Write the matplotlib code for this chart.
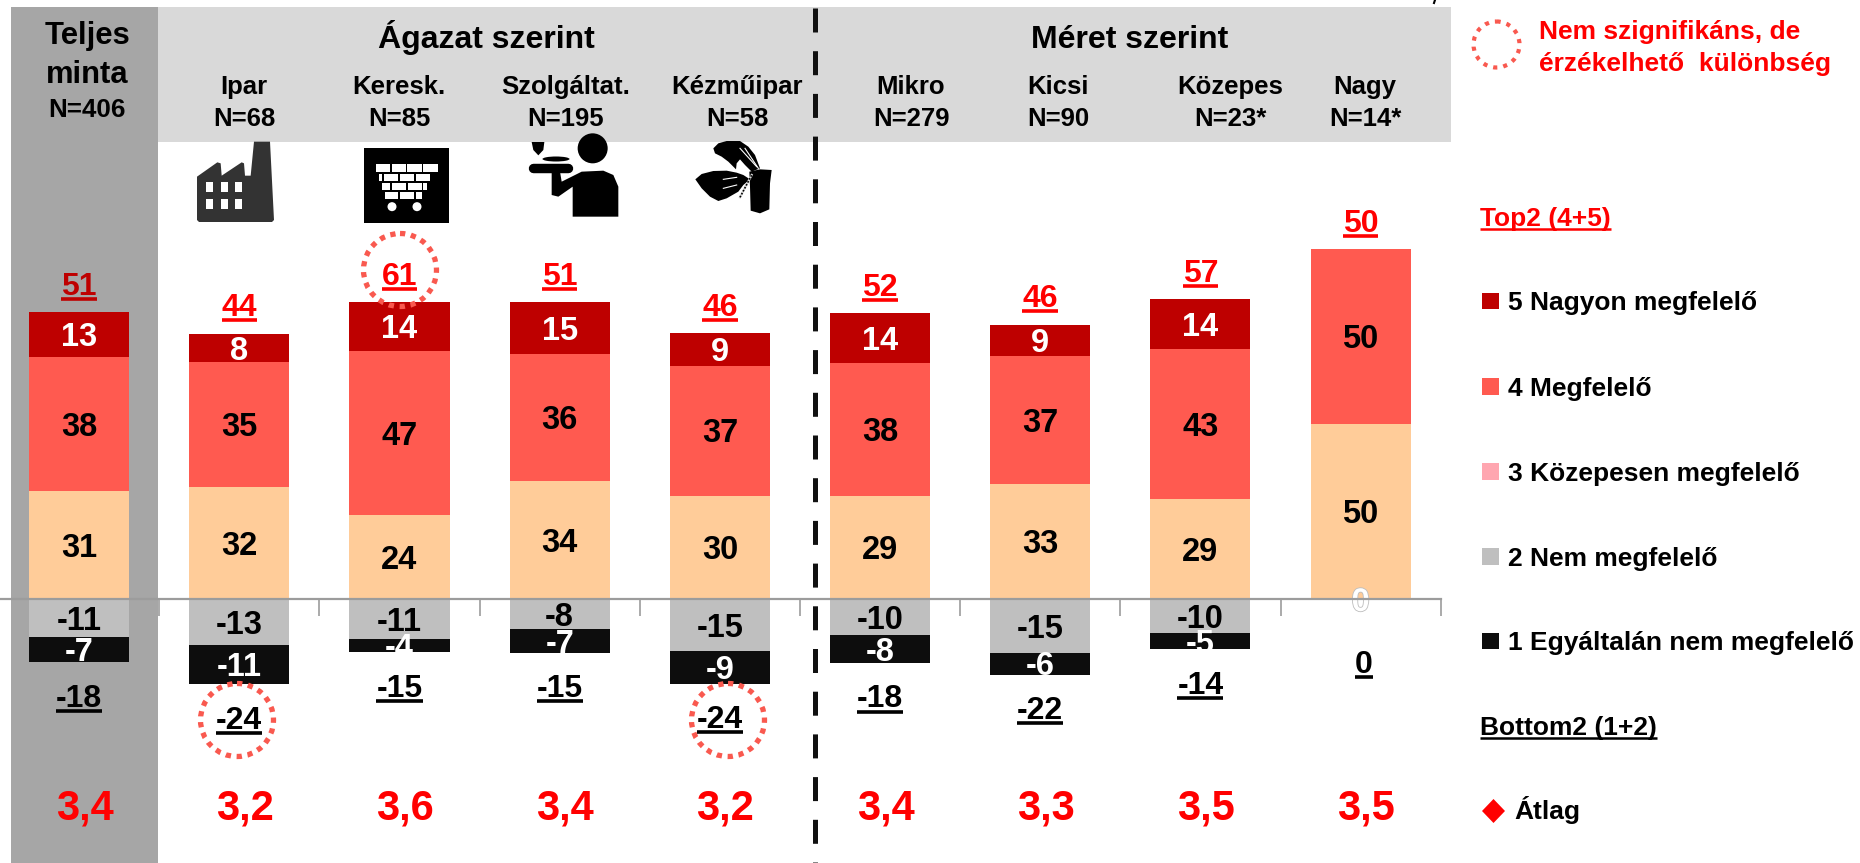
import matplotlib
matplotlib.use('Agg')
import matplotlib.pyplot as plt
import matplotlib.patheffects as pe
from matplotlib.patches import Rectangle, Polygon, Circle, Ellipse

plt.rcParams['font.family'] = ['Liberation Sans', 'DejaVu Sans']
plt.rcParams['font.weight'] = 'bold'

# data
groups = ['Teljes minta', 'Ipar', 'Keresk.', 'Szolgáltat.', 'Kézműipar', 'Mikro', 'Kicsi', 'Közepes', 'Nagy']
sizes = ['N=406', 'N=68', 'N=85', 'N=195', 'N=58', 'N=279', 'N=90', 'N=23*', 'N=14*']

# printed labels
v5 = [13, 8, 14, 15, 9, 14, 9, 14, 0]
v4 = [38, 35, 47, 36, 37, 38, 37, 43, 50]
v3 = [31, 32, 24, 34, 30, 29, 33, 29, 50]
v2 = [-11, -13, -11, -8, -15, -10, -15, -10, 0]
v1 = [-7, -11, -4, -7, -9, -8, -6, -5, 0]
top2 = [51, 44, 61, 51, 46, 52, 46, 57, 50]
bottom2 = [-18, -24, -15, -15, -24, -18, -22, -14, 0]
atlag = ['3,4', '3,2', '3,6', '3,4', '3,2', '3,4', '3,3', '3,5', '3,5']

# bar heights (unrounded)
h5 = [12.7, 8.0, 14.0, 14.8, 9.3, 14.3, 8.9, 14.2, 0]
h4 = [38.4, 35.6, 46.9, 36.3, 37.1, 37.9, 36.7, 42.8, 49.9]
h3 = [30.9, 32.2, 24.0, 33.8, 29.6, 29.5, 32.9, 28.7, 50.1]
h2 = [-10.8, -13.0, -11.3, -8.5, -14.9, -10.1, -15.3, -9.5, 0]
h1 = [-7.2, -11.3, -3.8, -6.8, -9.2, -8.1, -6.2, -4.8, 0]

C5, C4, C3, C2, C1 = '#BE0000', '#FF5A50', '#FFCC99', '#BFBFBF', '#0D0D0D'
C3_LEG = '#FFA6B0'
RED = '#FF0000'
COIL = '#F9594F'

W, H = 1860, 863
Y0 = 599.3       # zero line, pixels from the top
PX = 3.5         # pixels per percent

fig = plt.figure(figsize=(W / 100, H / 100), dpi=100)


# full figure axes in pixel coordinates, for bands, header, legend and icons
def pixel_axes(z):
    a = fig.add_axes([0, 0, 1, 1], zorder=z)
    a.set_xlim(0, W)
    a.set_ylim(H, 0)
    a.axis('off')
    return a


bg = pixel_axes(0)
ov = pixel_axes(2)

# main axes, zero line sits at Y0
ax = fig.add_axes([-1 / W, 0, 1441.7 / W, 1], zorder=1)
ax.patch.set_alpha(0)
ax.set_xlim(-0.5, 8.5)
ax.set_ylim(-(H - Y0) / PX, Y0 / PX)
for s in ['top', 'left', 'right']:
    ax.spines[s].set_visible(False)
ax.spines['bottom'].set_position(('data', 0))
ax.spines['bottom'].set_color('#9C9C9C')
ax.spines['bottom'].set_linewidth(1.6)
ax.set_yticks([])
ax.set_xticks([i - 0.5 for i in range(10)])
ax.set_xticklabels([])
ax.tick_params(axis='x', length=12, width=1.2, color='#9C9C9C', direction='out')

# background bands
bg.add_patch(Rectangle((11, 7), 147, H - 7, color='#A6A6A6', lw=0))
bg.add_patch(Rectangle((158, 7), 1293, 135, color='#D9D9D9', lw=0))

# bars
x = list(range(9))
b4 = h3
b5 = [a + b for a, b in zip(h3, h4)]
bw = 0.625
ax.bar(x, h3, bw, color=C3)
ax.bar(x, h4, bw, bottom=b4, color=C4)
ax.bar(x, h5, bw, bottom=b5, color=C5)
ax.bar(x, h2, bw, color=C2)
ax.bar(x, h1, bw, bottom=h2, color=C1)


def dlabel(i, y, s, size, color='black', dx=0, dy=0, zorder=5):
    # text centred on a data point, offsets in pixels (dy downwards)
    fpx = size / 0.72
    return ax.annotate(s, (i, y), xytext=(dx, -dy - 0.358 * fpx), textcoords='offset pixels',
                       ha='center', va='baseline', fontsize=size, color=color, zorder=zorder,
                       annotation_clip=False)


def ptext(px, py, s, size, color='black', ha='center'):
    # text with cap centre at a pixel position
    fpx = size / 0.72
    return ov.text(px, py + 0.358 * fpx, s, ha=ha, va='baseline', fontsize=size, color=color)


under = []
for i in x:
    dlabel(i, h3[i] / 2, str(v3[i]), 23.5)
    dlabel(i, b4[i] + h4[i] / 2, str(v4[i]), 23.5)
    if h5[i]:
        dlabel(i, b5[i] + h5[i] / 2, str(v5[i]), 23.5, 'white')
    if h2[i]:
        dlabel(i, h2[i] / 2, str(v2[i]), 23.5)
        dlabel(i, h2[i] + h1[i] / 2, str(v1[i]), 23.5, 'white')
    else:
        t = dlabel(i, 0, '0', 23.5, 'white', zorder=2)
        t.set_path_effects([pe.withStroke(linewidth=1.2, foreground='#BDBDBD')])

    # totals above and below the stack
    col = C5 if i == 0 else RED
    t = dlabel(i, b5[i] + h5[i], str(top2[i]), 23, col, dy=-29)
    under.append((t, col, 15.5))
    if h2[i]:
        t = dlabel(i, h2[i] + h1[i], str(bottom2[i]), 23, dy=33)
    else:
        t = dlabel(i, 0, str(bottom2[i]), 23, dx=3, dy=62)
    under.append((t, 'black', 15.5))

    # means row
    dlabel(i, (Y0 - 805) / PX, atlag[i], 30, RED, dx=5.5)

# header texts
ptext(87, 33, 'Teljes', 22.3)
ptext(87, 72, 'minta', 22.3)
ptext(87, 108, sizes[0], 18.7)
ptext(486, 37, 'Ágazat szerint', 23)
ptext(1130, 37, 'Méret szerint', 23)
name_x = [244, 399, 566, 737, 911, 1058, 1230, 1365]
for px, name, n in zip(name_x, groups[1:], sizes[1:]):
    ptext(px, 85, name, 18.5)
    ptext(px, 117, n, 18.5)

# vertical divider
ov.plot([815, 815], [8, H], color='#111111', lw=3.6, dashes=(24 / 5, 18.7 / 5), dash_capstyle='butt')

# dotted circles
for cx, cy, r in [(400, 270, 36.5), (237, 720, 36.5), (728, 720, 36.5)]:
    ov.add_patch(Circle((cx, cy), r, fill=False, ec=COIL, lw=3.8, ls=(0, (1, 1.08))))
ov.add_patch(Circle((1496.5, 44.5), 23, fill=False, ec=COIL, lw=3, ls=(0, (1, 1.45))))

# clipped bit of text at the top edge of the slide
ov.plot([1435, 1434], [0, 3], color='black', lw=1.5)

# legend
ptext(1539, 30, 'Nem szignifikáns, de', 19, RED, ha='left')
ptext(1539, 62, 'érzékelhető  különbség', 19, RED, ha='left')
t = ptext(1480, 217, 'Top2 (4+5)', 19, RED, ha='left')
under.append((t, RED, 12))
t = ptext(1480, 726, 'Bottom2 (1+2)', 19, ha='left')
under.append((t, 'black', 12))
legend_rows = [(301, C5, '5 Nagyon megfelelő'), (387, C4, '4 Megfelelő'), (471.5, C3_LEG, '3 Közepesen megfelelő'),
               (556.5, C2, '2 Nem megfelelő'), (641, C1, '1 Egyáltalán nem megfelelő')]
for py, c, s in legend_rows:
    ov.add_patch(Rectangle((1482, py - 8.5), 16.5, 16.5, color=c, lw=0))
    ptext(1507.7, py, s, 19, ha='left')
ov.add_patch(Polygon([(1493.5, 799), (1505, 811), (1493.5, 823), (1482, 811)], color=RED, lw=0))
ptext(1514, 810, 'Átlag', 19, ha='left')


# icons, coordinates are in 3x zoom pixels of a local origin
def zp(pts, ox, oy):
    return [(ox + a / 3, oy + b / 3) for a, b in pts]


# factory
ox, oy = 180, 125
ov.add_patch(Polygon(zp([(51, 285), (51, 155), (112, 112), (122, 115), (125, 152), (185, 112), (192, 115),
                         (195, 152), (212, 152), (222, 50), (270, 50), (282, 285), (276, 291), (57, 291)], ox, oy),
                     color='#333333', lw=0))
for wx in [78, 123, 166]:
    for wy in [171, 221]:
        ov.add_patch(Rectangle((ox + wx / 3, oy + wy / 3), 6.5, 10, color='white', lw=0))

# cart
ov.add_patch(Rectangle((ox + 552 / 3, oy + 69 / 3), 85, 75, color='black', lw=0))
bricks = [(116, 140, [(588, 630), (635, 677), (682, 725), (730, 773)]),
          (146, 168, [(598, 607), (613, 655), (660, 703), (708, 750)]),
          (173, 196, [(607, 630), (636, 678), (683, 725), (730, 740)]),
          (202, 223, [(615, 655), (660, 703), (708, 727)])]
for y0, y1, row in bricks:
    for x0, x1 in row:
        ov.add_patch(Rectangle((ox + x0 / 3, oy + y0 / 3), (x1 - x0) / 3, (y1 - y0) / 3, color='white', lw=0))
for wx in [636, 711]:
    ov.add_patch(Circle((ox + wx / 3, oy + 245 / 3), 4.5, color='white', lw=0))

# waiter
ox, oy = 510, 120
ov.add_patch(Circle((ox + 248 / 3, oy + 85 / 3), 15, color='black', lw=0))
ov.add_patch(Polygon(zp([(65, 66), (103, 66), (100, 90), (85, 106), (70, 90)], ox, oy), color='black', lw=0))
ov.add_patch(Ellipse((ox + 138 / 3, oy + 117 / 3), 27, 5, color='black', lw=0))
ov.plot([ox + 69 / 3, ox + 174 / 3], [oy + 144 / 3] * 2, color='black', lw=6.8, solid_capstyle='round')
ov.add_patch(Polygon(zp([(125, 155), (150, 155), (155, 185), (215, 155), (280, 152), (310, 165), (325, 200),
                         (325, 290), (188, 290), (188, 200), (145, 230), (125, 225)], ox, oy),
                     color='black', lw=0))

# hands
ov.add_patch(Polygon(zp([(610, 85), (625, 70), (650, 63), (690, 63), (715, 80), (735, 105), (750, 145), (725, 155),
                         (705, 135), (690, 118), (680, 130), (678, 148), (655, 125), (635, 110), (615, 100)], ox, oy),
                     color='black', lw=0))
ov.add_patch(Polygon(zp([(556, 178), (575, 162), (610, 153), (650, 152), (680, 158), (700, 165), (720, 178),
                         (700, 195), (685, 215), (650, 235), (625, 243), (600, 230), (575, 205)], ox, oy),
                     color='black', lw=0))
ov.add_patch(Polygon(zp([(718, 155), (750, 148), (785, 150), (780, 190), (778, 268), (750, 280), (722, 272),
                         (720, 200)], ox, oy), color='black', lw=0))
for seg in [[(640, 178), (680, 172)], [(640, 205), (680, 195)], [(690, 85), (740, 140)], [(705, 85), (745, 145)]]:
    ov.plot(*zip(*zp(seg, ox, oy)), color='white', lw=0.8)
ov.plot(*zip(*zp([(690, 232), (725, 165)], ox, oy)), color='#D8D8D8', lw=1.6)
ov.plot(*zip(*zp([(690, 232), (725, 165)], ox, oy)), color='black', lw=1.2, ls=(0, (1, 1)))

# underlines need the rendered text widths
fig.canvas.draw()
rend = fig.canvas.get_renderer()
for t, col, off in under:
    bb = t.get_window_extent(rend)
    fpx = t.get_fontsize() / 0.72
    if isinstance(t, matplotlib.text.Annotation):
        base = H - ax.transData.transform(t.xy)[1] - t.xyann[1]
    else:
        base = t.get_position()[1]
    cy = base - 0.358 * fpx
    ov.plot([bb.x0, bb.x1], [cy + off] * 2, color=col, lw=2.6 if off > 13 else 1.8, solid_capstyle='butt')

fig.savefig('out.png', dpi=100)
